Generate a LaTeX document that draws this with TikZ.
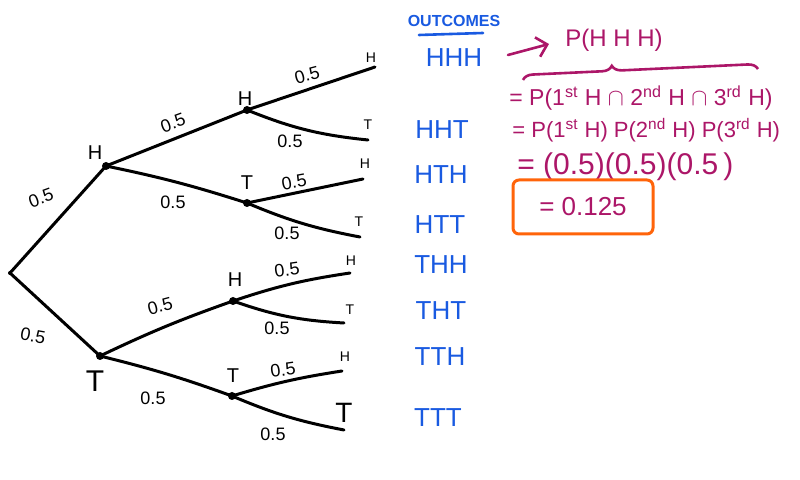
\documentclass[tikz,border=0pt]{standalone}
\usepackage{fontspec}
\setmainfont{Liberation Sans}
\usetikzlibrary{decorations.pathreplacing,arrows.meta}
\definecolor{inkblue}{RGB}{25,90,225}
\definecolor{inkmag}{RGB}{172,22,104}
\definecolor{inkorange}{RGB}{255,100,10}
\begin{document}
\begin{tikzpicture}[x=0.5pt,y=-0.5pt,
  branch/.style={line width=1.5pt, line cap=round, line join=round},
  dot/.style={circle, fill, inner sep=0pt, minimum size=4pt},
  prob/.style={font=\fontsize{9}{10}\selectfont, inner sep=0pt},
  lvl/.style={font=\fontsize{10}{12}\selectfont, inner sep=0pt},
  leaflab/.style={font=\fontsize{7}{8}\selectfont, inner sep=0pt},
  outc/.style={text=inkblue, font=\fontsize{13}{15}\selectfont, inner sep=0pt},
  calc/.style={text=inkmag, inner sep=0pt, anchor=west}]
\useasboundingbox (0,0) rectangle (800,480);
\fill[white] (0,0) rectangle (800,480);

% branch points
\node[dot, minimum size=2pt] (root) at (10,273) {};
\node[dot] (h) at (106,166) {};
\node[dot] (t) at (100,356) {};
\node[dot] (hh) at (247,110) {};
\node[dot] (ht) at (247,203) {};
\node[dot] (th) at (233,301) {};
\node[dot] (tt) at (232,396) {};
% leaves
\coordinate (hhh) at (375,67);
\coordinate (hht) at (368,140);
\coordinate (hth) at (363,179);
\coordinate (htt) at (360,237);
\coordinate (thh) at (350,273);
\coordinate (tht) at (344,323);
\coordinate (tth) at (342,371);
\coordinate (ttt) at (344,430);

% branches
\draw[branch] (root.center) -- (h.center);
\draw[branch] (root.center) -- (t.center);
\draw[branch] (h.center) -- (hh.center);
\draw[branch] (h.center) to[bend left=3] (ht.center);
\draw[branch] (t.center) to[bend left=3] (th.center);
\draw[branch] (t.center) to[bend left=3] (tt.center);
\draw[branch] (hh.center) -- (hhh);
\draw[branch] (hh.center) to[bend right=8] (hht);
\draw[branch] (ht.center) -- (hth);
\draw[branch] (ht.center) to[bend right=6] (htt);
\draw[branch] (th.center) to[bend left=5] (thh);
\draw[branch] (th.center) to[bend right=8] (tht);
\draw[branch] (tt.center) to[bend left=4] (tth);
\draw[branch] (tt.center) to[bend right=6] (ttt);

% level labels
\node[lvl] (lh) at (95,153) {H};
\node[lvl, font=\fontsize{15}{16}\selectfont] (lt) at (95,381) {T};
\node[lvl] (lhh) at (245,99) {H};
\node[lvl] (lht) at (247,183) {T};
\node[lvl] (lth) at (235,280) {H};
\node[lvl] (ltt) at (233,376) {T};
\node[leaflab] (lhhh) at (371,58) {H};
\node[leaflab] (lhht) at (368,125) {T};
\node[leaflab] (lhth) at (365,164) {H};
\node[leaflab] (lhtt) at (359,222) {T};
\node[leaflab] (lthh) at (351,261) {H};
\node[leaflab] (ltht) at (350,310) {T};
\node[leaflab] (ltth) at (345,357) {H};
\node[leaflab, font=\fontsize{14}{15}\selectfont] (lttt) at (344,413) {T};

% probabilities
\node[prob, rotate=20] (p1) at (41,198) {0.5};
\node[prob, rotate=-10] (p2) at (33,336) {0.5};
\node[prob, rotate=20] (p3) at (173,123) {0.5};
\node[prob] (p4) at (173,202) {0.5};
\node[prob, rotate=15] (p5) at (160,306) {0.5};
\node[prob] (p6) at (153,398) {0.5};
\node[prob, rotate=15] (p7) at (307,75) {0.5};
\node[prob] (p8) at (290,141) {0.5};
\node[prob, rotate=10] (p9) at (294,182) {0.5};
\node[prob] (p10) at (287,233) {0.5};
\node[prob, rotate=8] (p11) at (287,270) {0.5};
\node[prob] (p12) at (277,328) {0.5};
\node[prob, rotate=8] (p13) at (283,370) {0.5};
\node[prob] (p14) at (273,434) {0.5};

% outcomes
\node[outc, font=\fontsize{8}{9}\selectfont\bfseries] (ohead) at (454,21) {OUTCOMES};
\coordinate (ul1) at (419,35);
\coordinate (ul2) at (483,33);
\draw[inkblue, line width=1.3pt, line cap=round] (ul1) -- (ul2);
\node[outc] (o1) at (454,58) {HHH};
\node[outc] (o2) at (442,130) {HHT};
\node[outc] (o3) at (441,175) {HTH};
\node[outc] (o4) at (440,225) {HTT};
\node[outc] (o5) at (441,265) {THH};
\node[outc] (o6) at (441,311) {THT};
\node[outc] (o7) at (440,357) {TTH};
\node[outc] (o8) at (438,418) {TTT};

% calculation
\node[text=inkmag, font=\fontsize{12}{14}\selectfont, inner sep=0pt] (phhh) at (614,40) {P(H H H)};
\coordinate (a1) at (508,55);
\coordinate (a2) at (549,44);
\draw[inkmag, line width=1.3pt, line cap=round, -{Straight Barb[length=5pt]}] (a1) -- (a2);
\coordinate (b1) at (523,80);
\coordinate (b2) at (758,69);
\draw[inkmag, line width=1.3pt, decorate, decoration={brace, amplitude=5pt, aspect=0.38}] (b1) -- (b2);
\node[calc, font=\fontsize{11.5}{14}\selectfont] (c1) at (509,98) {= P(1\textsuperscript{st} H $\cap$ 2\textsuperscript{nd} H $\cap$ 3\textsuperscript{rd} H)};
\node[calc, font=\fontsize{11}{13}\selectfont] (c2) at (512,130) {= P(1\textsuperscript{st} H) P(2\textsuperscript{nd} H) P(3\textsuperscript{rd} H)};
\node[calc, font=\fontsize{15}{17}\selectfont] (c3) at (517,167) {= (0.5)(0.5)(0.5\,)};
\node[draw=inkorange, line width=1.5pt, rounded corners=3pt, minimum width=70pt, minimum height=27pt, text=inkmag, font=\fontsize{13}{15}\selectfont] (res) at (583,207) {= 0.125};
\end{tikzpicture}
\end{document}
